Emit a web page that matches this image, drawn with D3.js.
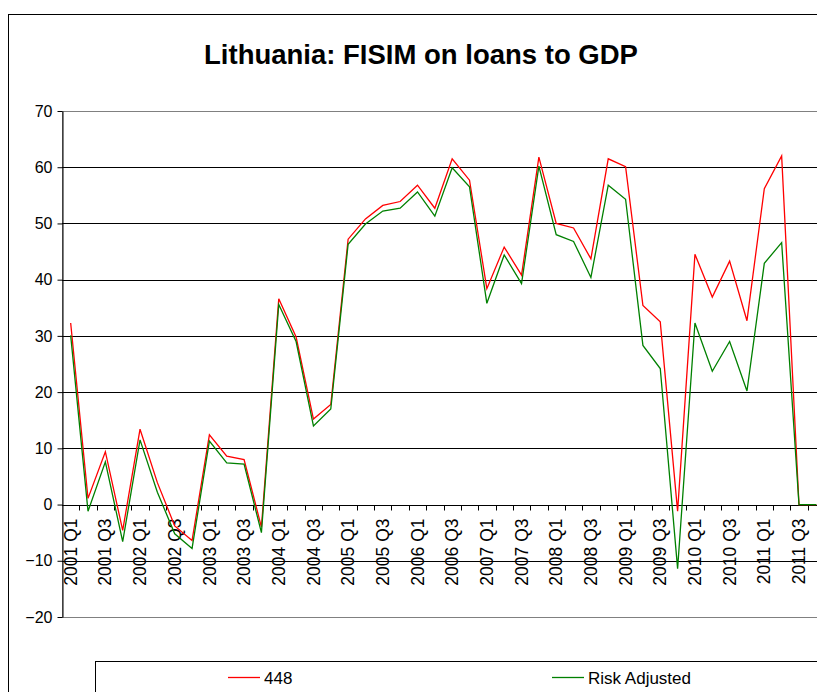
<!DOCTYPE html>
<html>
<head>
<meta charset="utf-8">
<script src="https://cdn.jsdelivr.net/npm/d3@7"></script>
<style>
  body { margin: 0; background: #fff; overflow: hidden; }
  text { font-family: "Liberation Sans", Arial, sans-serif; }
</style>
</head>
<body>
<div id="chart"></div>
<script>
// quarters 2001 Q1 .. 2011 Q4
const quarters = [
    "2001 Q1", "2001 Q2", "2001 Q3", "2001 Q4",
    "2002 Q1", "2002 Q2", "2002 Q3", "2002 Q4",
    "2003 Q1", "2003 Q2", "2003 Q3", "2003 Q4",
    "2004 Q1", "2004 Q2", "2004 Q3", "2004 Q4",
    "2005 Q1", "2005 Q2", "2005 Q3", "2005 Q4",
    "2006 Q1", "2006 Q2", "2006 Q3", "2006 Q4",
    "2007 Q1", "2007 Q2", "2007 Q3", "2007 Q4",
    "2008 Q1", "2008 Q2", "2008 Q3", "2008 Q4",
    "2009 Q1", "2009 Q2", "2009 Q3", "2009 Q4",
    "2010 Q1", "2010 Q2", "2010 Q3", "2010 Q4",
    "2011 Q1", "2011 Q2", "2011 Q3", "2011 Q4"
]

const values448 = [
    32.3, 1.1, 9.4, -4.6, 13.4, 3.9, -3.8, -6.4,
    12.4, 8.6, 8.0, -4.0, 36.6, 29.8, 15.2, 17.8,
    47.2, 50.8, 53.2, 53.9, 56.8, 52.7, 61.5, 57.7,
    38.4, 45.8, 40.8, 61.8, 50.0, 49.2, 43.7, 61.5,
    60.1, 35.4, 32.5, -1.2, 44.5, 36.9, 43.3, 32.7,
    56.2, 62.0, 0, 0
]

const valuesRisk = [
    30.1, -1.2, 7.6, -6.6, 11.5, 2.2, -5.2, -7.8,
    11.3, 7.4, 7.2, -5.0, 35.6, 29.0, 14.0, 17.0,
    46.3, 49.9, 52.2, 52.7, 55.6, 51.3, 59.9, 56.5,
    35.8, 44.4, 39.3, 60.2, 48.0, 46.8, 40.4, 56.8,
    54.3, 28.3, 24.2, -11.4, 32.3, 23.7, 29.0, 20.2,
    42.9, 46.6, 0, 0
]

const seriesNames = ["448", "Risk Adjusted"]
const seriesColors = ["#ff0000", "#008000"]
const yTicks = [-20, -10, 0, 10, 20, 30, 40, 50, 60, 70]

const width = 817, height = 692
const plot = { left: 62, top: 111, right: 825, bottom: 617 }

let svg = d3.select("#chart").append("svg")
    .attr("width", width)
    .attr("height", height)

// outer chart frame (runs past the right and bottom edge)
svg.append("rect")
    .attr("x", 8.5).attr("y", 14.5)
    .attr("width", 840).attr("height", 700)
    .attr("fill", "#fff")
    .attr("stroke", "#000")
    .attr("stroke-width", 1)

svg.append("text")
    .attr("x", 421)
    .attr("y", 64)
    .attr("text-anchor", "middle")
    .style("font-size", "27.5px")
    .style("font-weight", "bold")
    .text("Lithuania: FISIM on loans to GDP")

let xScale = d3.scaleBand()
    .domain(quarters)
    .range([plot.left, plot.right])

let yScale = d3.scaleLinear()
    .domain([-20, 70])
    .range([plot.bottom, plot.top])

// plot area border (grey)
svg.append("rect")
    .attr("x", plot.left + 0.5).attr("y", plot.top + 0.5)
    .attr("width", plot.right - plot.left)
    .attr("height", plot.bottom - plot.top)
    .attr("fill", "none")
    .attr("stroke", "#808080")
    .attr("stroke-width", 1)

// gridlines
svg.append("g")
    .selectAll("line")
    .data(yTicks.filter(d => d > -20 && d < 70))
    .join("line")
    .attr("x1", plot.left).attr("x2", plot.right)
    .attr("y1", d => Math.round(yScale(d)) + 0.5)
    .attr("y2", d => Math.round(yScale(d)) + 0.5)
    .attr("stroke", "#000")
    .attr("stroke-width", 1)

// y axis
let yAxis = d3.axisLeft(yScale)
    .tickValues(yTicks)
    .tickSizeInner(5)
    .tickSizeOuter(0)
    .tickPadding(5)

let yG = svg.append("g")
    .attr("transform", `translate(${plot.left + 0.5},0)`)
    .call(yAxis)
yG.select(".domain").attr("stroke", "#000")
yG.selectAll(".tick line").attr("stroke", "#000")
yG.selectAll(".tick text")
    .style("font-size", "16px")
    .attr("fill", "#000")

// x axis on the zero line, ticks between categories
let y0 = Math.round(yScale(0)) + 0.5
svg.append("g")
    .selectAll("line")
    .data(quarters.slice(1))
    .join("line")
    .attr("x1", d => Math.round(xScale(d)) + 0.5)
    .attr("x2", d => Math.round(xScale(d)) + 0.5)
    .attr("y1", y0)
    .attr("y2", y0 + 5)
    .attr("stroke", "#000")

let xAxis = d3.axisBottom(xScale)
    .tickValues(quarters.filter((d, i) => i % 2 === 0))
    .tickSize(0)

let xG = svg.append("g")
    .attr("transform", `translate(0,${y0})`)
    .call(xAxis)
xG.select(".domain").remove()
xG.selectAll(".tick text")
    .attr("transform", "rotate(-90)")
    .attr("text-anchor", "end")
    .attr("x", -13)
    .attr("y", 0)
    .attr("dy", "0.35em")
    .attr("fill", "#000")
    .style("font-size", "17.5px")

// lines
const line = d3.line()
    .x((d, i) => xScale(quarters[i]) + xScale.bandwidth() / 2)
    .y(d => yScale(d))

svg.append("clipPath")
    .attr("id", "clip")
    .append("rect")
    .attr("x", plot.left).attr("y", 0)
    .attr("width", plot.right - plot.left)
    .attr("height", height)

const allSeries = [values448, valuesRisk]
svg.append("g")
    .attr("clip-path", "url(#clip)")
    .selectAll("path")
    .data(allSeries)
    .join("path")
    .attr("d", line)
    .attr("fill", "none")
    .attr("stroke", (d, i) => seriesColors[i])
    .attr("stroke-width", 1.3)
    .attr("stroke-linejoin", "miter")

// legend
svg.append("rect")
    .attr("x", 95.5).attr("y", 661.5)
    .attr("width", 800).attr("height", 60)
    .attr("fill", "#fff")
    .attr("stroke", "#000")

const legendX = [228, 552]
const legend = svg.append("g")
    .selectAll("g")
    .data(seriesNames)
    .join("g")
    .attr("transform", (d, i) => `translate(${legendX[i]},677)`)

legend.append("line")
    .attr("x1", 0).attr("x2", 32)
    .attr("y1", 0.5).attr("y2", 0.5)
    .attr("stroke", (d, i) => seriesColors[i])
    .attr("stroke-width", 1.3)

legend.append("text")
    .attr("x", 36)
    .attr("y", 6.5)
    .style("font-size", "17px")
    .text(d => d)
</script>
</body>
</html>
